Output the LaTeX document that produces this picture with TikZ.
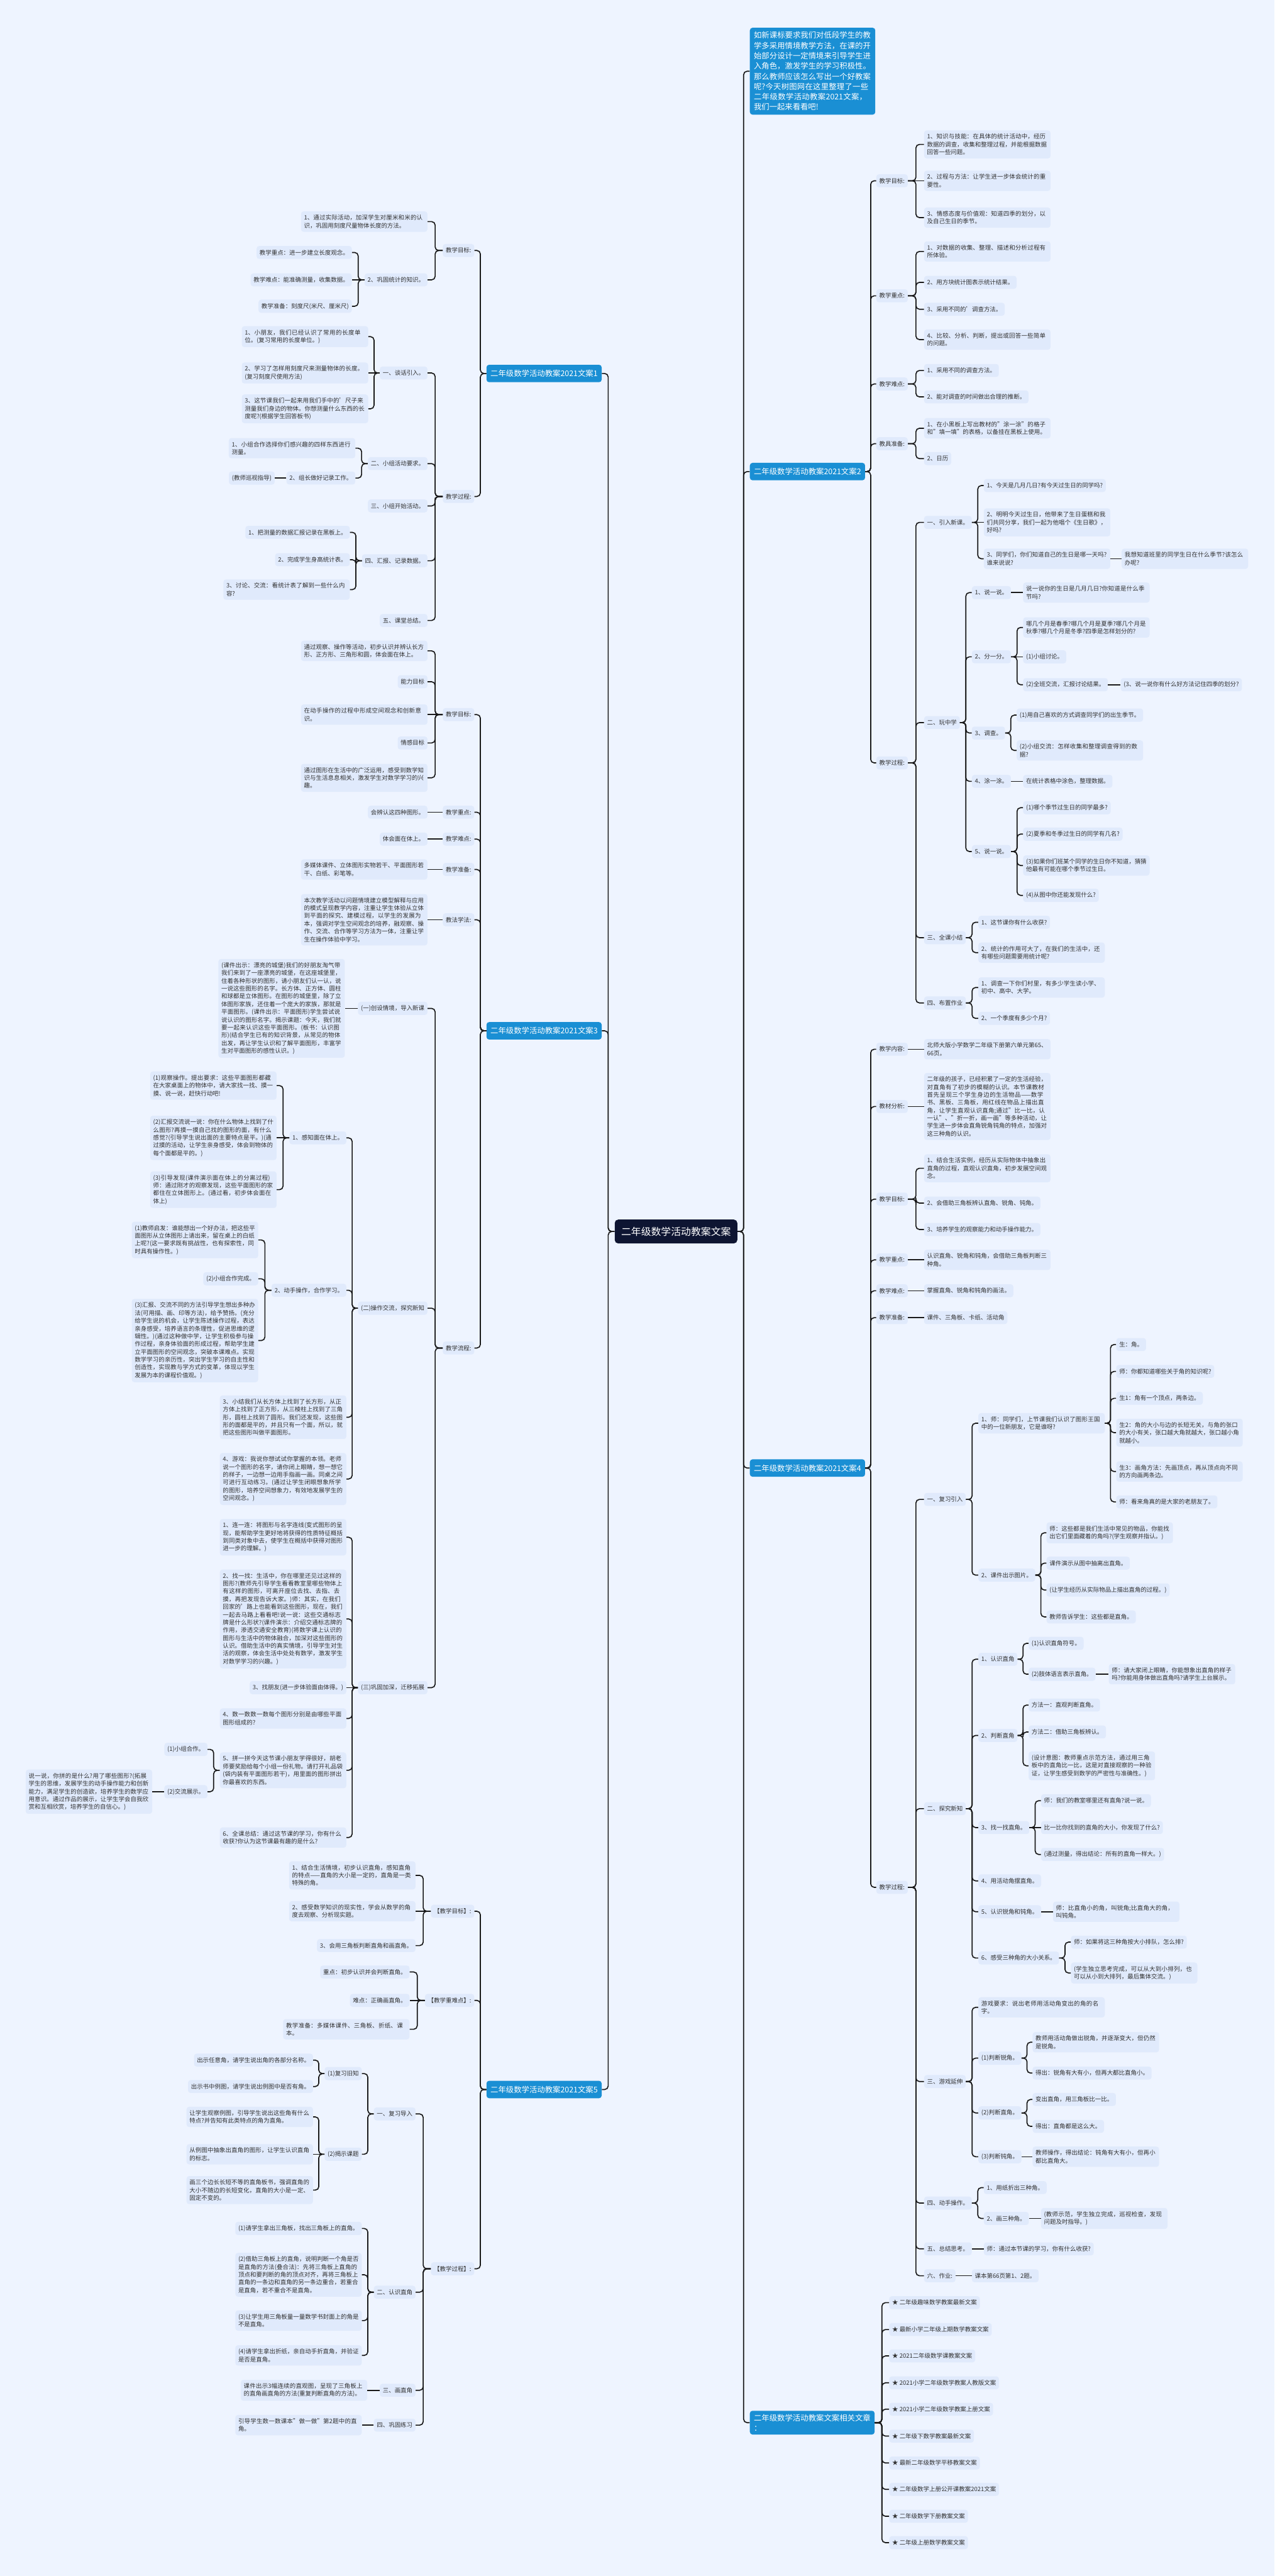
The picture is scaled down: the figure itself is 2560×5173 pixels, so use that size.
\documentclass[tikz,border=0pt]{standalone}
\usepackage{fontspec}
\setmainfont{Noto Sans CJK SC}
\XeTeXlinebreaklocale "zh"
\XeTeXlinebreakskip=0pt plus 1pt
\usetikzlibrary{calc}
\definecolor{pagebg}{RGB}{238,244,255}
\definecolor{leafbg}{RGB}{224,234,252}
\definecolor{topicbg}{RGB}{26,143,212}
\definecolor{rootbg}{RGB}{14,21,50}
\definecolor{wirecol}{RGB}{25,25,25}
\definecolor{inkcol}{RGB}{50,50,50}
\tikzset{
  leaf/.style={fill=leafbg, rounded corners=3pt, inner xsep=0.12cm, inner ysep=0.14cm,
    minimum height=0.52cm, align=left, text=inkcol, font=\fontsize{6.8pt}{8.9pt}\selectfont},
  wleaf/.style={leaf, text width=4.84cm},
  topic/.style={fill=topicbg, rounded corners=3pt, inner xsep=0.16cm, inner ysep=0.14cm,
    minimum height=0.7cm, align=left, text=white, font=\fontsize{8.9pt}{11.6pt}\selectfont},
  hub/.style={fill=rootbg, rounded corners=4pt, inner xsep=0.26cm, minimum height=0.96cm,
    text=white, font=\fontsize{11.4pt}{13pt}\selectfont},
  wire/.style={draw=wirecol, line width=1.2pt, rounded corners=4pt},
}
\newcommand{\rkids}[2]{\foreach \kid in {#2}{\draw[wire] (#1.east) -| ($(#1.east)!.5!(\kid.west)$) |- (\kid.west);}}
\newcommand{\lkids}[2]{\foreach \kid in {#2}{\draw[wire] (#1.west) -| ($(#1.west)!.5!(\kid.east)$) |- (\kid.east);}}
\newcommand{\rone}[2]{\draw[wire] (#1.east) -- (#1.east -| #2.west);}
\newcommand{\lone}[2]{\draw[wire] (#1.west) -- (#1.west -| #2.east);}

\begin{document}
\begin{tikzpicture}[x=0.02cm,y=-0.02cm]
\fill[pagebg] (0,0) rectangle (2560,5173);
\useasboundingbox (0,0) rectangle (2560,5173);

\node[hub] (root) at (1358,2473) {二年级数学活动教案文案};

% right side
\node[topic, anchor=west, text width=4.72cm, inner ysep=0.16cm, font=\fontsize{8.87pt}{11.7pt}\selectfont] (intro) at (1506,143) {如新课标要求我们对低段学生的教学多采用情境教学方法，在课的开始部分设计一定情境来引导学生进入角色，激发学生的学习积极性。那么教师应该怎么写出一个好教案呢?今天树图网在这里整理了一些二年级数学活动教案2021文案，我们一起来看看吧!};

\node[topic, anchor=west] (b2) at (1506,947) {二年级数学活动教案2021文案2};
\node[leaf, anchor=west] (b2g) at (1760,363) {教学目标:};
\node[leaf, anchor=west] (b2z) at (1760,594) {教学重点:};
\node[leaf, anchor=west] (b2n) at (1760,771) {教学难点:};
\node[leaf, anchor=west] (b2j) at (1760,891) {教具准备:};
\node[leaf, anchor=west] (b2p) at (1760,1532) {教学过程:};
\node[wleaf, anchor=west] (b2g1) at (1856,290) {1、知识与技能：在具体的统计活动中，经历数据的调查，收集和整理过程，并能根据数据回答一些问题。};
\node[wleaf, anchor=west] (b2g2) at (1856,363) {2、过程与方法：让学生进一步体会统计的重要性。};
\node[wleaf, anchor=west] (b2g3) at (1856,437) {3、情感态度与价值观：知道四季的划分，以及自己生日的季节。};
\node[wleaf, anchor=west] (b2z1) at (1856,505) {1、对数据的收集、整理、描述和分析过程有所体验。};
\node[leaf, anchor=west] (b2z2) at (1856,567) {2、用方块统计图表示统计结果。};
\node[leaf, anchor=west] (b2z3) at (1856,621) {3、采用不同的'调查方法。};
\node[wleaf, anchor=west] (b2z4) at (1856,682) {4、比较、分析、判断，提出或回答一些简单的问题。};
\node[leaf, anchor=west] (b2n1) at (1856,744) {1、采用不同的调查方法。};
\node[leaf, anchor=west] (b2n2) at (1856,797) {2、能对调查的时间做出合理的推断。};
\node[wleaf, anchor=west] (b2j1) at (1856,860) {1、在小黑板上写出教材的"涂一涂"的格子和"填一填"的表格，以备挂在黑板上使用。};
\node[leaf, anchor=west] (b2j2) at (1856,921) {2、日历};
\node[leaf, anchor=west] (b2p1) at (1856,1049) {一、引入新课。};
\node[leaf, anchor=west] (b2p2) at (1856,1451) {二、玩中学};
\node[leaf, anchor=west] (b2p3) at (1856,1883) {三、全课小结};
\node[leaf, anchor=west] (b2p4) at (1856,2014) {四、布置作业};
\node[leaf, anchor=west] (c11) at (1976,975) {1、今天是几月几日?有今天过生日的同学吗?};
\node[wleaf, anchor=west] (c12) at (1976,1049) {2、明明今天过生日，他带来了生日蛋糕和我们共同分享，我们一起为他唱个《生日歌》，好吗?};
\node[wleaf, anchor=west] (c13) at (1976,1122) {3、同学们，你们知道自己的生日是哪一天吗?谁来说说?};
\node[wleaf, anchor=west] (c131) at (2253,1122) {我想知道班里的同学生日在什么季节?该怎么办呢?};
\node[leaf, anchor=west] (c21) at (1952,1190) {1、说一说。};
\node[wleaf, anchor=west] (c211) at (2055,1190) {说一说你的生日是几月几日?你知道是什么季节吗?};
\node[leaf, anchor=west] (c22) at (1952,1319) {2、分一分。};
\node[wleaf, anchor=west] (c221) at (2055,1260) {哪几个月是春季?哪几个月是夏季?哪几个月是秋季?哪几个月是冬季?四季是怎样划分的?};
\node[leaf, anchor=west] (c222) at (2055,1319) {(1)小组讨论。};
\node[leaf, anchor=west] (c223) at (2055,1375) {(2)全班交流，汇报讨论结果。};
\node[leaf, anchor=west] (c2231) at (2251,1375) {(3、说一说你有什么好方法记住四季的划分?};
\node[leaf, anchor=west] (c23) at (1952,1472) {3、调查。};
\node[wleaf, anchor=west] (c231) at (2042,1436) {(1)用自己喜欢的方式调查同学们的出生季节。};
\node[wleaf, anchor=west] (c232) at (2042,1507) {(2)小组交流：怎样收集和整理调查得到的数据?};
\node[leaf, anchor=west] (c24) at (1952,1569) {4、涂一涂。};
\node[leaf, anchor=west] (c241) at (2055,1569) {在统计表格中涂色，整理数据。};
\node[leaf, anchor=west] (c25) at (1952,1710) {5、说一说。};
\node[leaf, anchor=west] (c251) at (2055,1622) {(1)哪个季节过生日的同学最多?};
\node[leaf, anchor=west] (c252) at (2055,1675) {(2)夏季和冬季过生日的同学有几名?};
\node[wleaf, anchor=west] (c253) at (2055,1738) {(3)如果你们班某个同学的生日你不知道，猜猜他最有可能在哪个季节过生日。};
\node[leaf, anchor=west] (c254) at (2055,1798) {(4)从图中你还能发现什么?};
\node[leaf, anchor=west] (c31) at (1965,1852) {1、这节课你有什么收获?};
\node[wleaf, anchor=west] (c32) at (1965,1913) {2、统计的作用可大了，在我们的生活中，还有哪些问题需要用统计呢?};
\node[wleaf, anchor=west] (c41) at (1965,1983) {1、调查一下你们村里，有多少学生读小学、初中、高中、大学。};
\node[leaf, anchor=west] (c42) at (1965,2045) {2、一个季度有多少个月?};

\node[topic, anchor=west] (b4) at (1506,2948) {二年级数学活动教案2021文案4};
\node[leaf, anchor=west] (d1) at (1760,2107) {教学内容:};
\node[leaf, anchor=west] (d2) at (1760,2222) {教材分析:};
\node[leaf, anchor=west] (d3) at (1760,2408) {教学目标:};
\node[leaf, anchor=west] (d4) at (1760,2530) {教学重点:};
\node[leaf, anchor=west] (d5) at (1760,2592) {教学难点:};
\node[leaf, anchor=west] (d6) at (1760,2646) {教学准备:};
\node[leaf, anchor=west] (d7) at (1760,3790) {教学过程:};
\node[wleaf, anchor=west] (d11) at (1856,2107) {北师大版小学数学二年级下册第六单元第65、66页。};
\node[wleaf, anchor=west] (d21) at (1856,2222) {二年级的孩子，已经积累了一定的生活经验，对直角有了初步的模糊的认识。本节课教材首先呈现三个学生身边的生活物品——数学书、黑板、三角板，用红线在物品上描出直角，让学生直观认识直角;通过"比一比，认一认"、"折一折，画一画"等多种活动，让学生进一步体会直角锐角钝角的特点，加强对这三种角的认识。};
\node[wleaf, anchor=west] (d31) at (1856,2346) {1、结合生活实例，经历从实际物体中抽象出直角的过程，直观认识直角，初步发展空间观念。};
\node[leaf, anchor=west] (d32) at (1856,2416) {2、会借助三角板辨认直角、锐角、钝角。};
\node[leaf, anchor=west] (d33) at (1856,2469) {3、培养学生的观察能力和动手操作能力。};
\node[wleaf, anchor=west] (d41) at (1856,2530) {认识直角、锐角和钝角，会借助三角板判断三种角。};
\node[leaf, anchor=west] (d51) at (1856,2592) {掌握直角、锐角和钝角的画法。};
\node[leaf, anchor=west] (d61) at (1856,2646) {课件、三角板、卡纸、活动角};
\node[leaf, anchor=west] (e1) at (1856,3011) {一、复习引入};
\node[leaf, anchor=west] (e2) at (1856,3632) {二、探究新知};
\node[leaf, anchor=west] (e3) at (1856,4180) {三、游戏延伸};
\node[leaf, anchor=west] (e4) at (1856,4424) {四、动手操作。};
\node[leaf, anchor=west] (e5) at (1856,4516) {五、总结思考。};
\node[leaf, anchor=west] (e6) at (1856,4570) {六、作业:};
\node[wleaf, anchor=west] (e11) at (1965,2858) {1、师：同学们，上节课我们认识了图形王国中的一位新朋友，它是谁呀?};
\node[leaf, anchor=west] (e111) at (2242,2700) {生：角。};
\node[leaf, anchor=west] (e112) at (2242,2754) {师：你都知道哪些关于角的知识呢?};
\node[leaf, anchor=west] (e113) at (2242,2808) {生1：角有一个顶点，两条边。};
\node[wleaf, anchor=west] (e114) at (2242,2877) {生2：角的大小与边的长短无关，与角的张口的大小有关，张口越大角就越大，张口越小角就越小。};
\node[wleaf, anchor=west] (e115) at (2242,2955) {生3：画角方法：先画顶点，再从顶点向不同的方向画两条边。};
\node[leaf, anchor=west] (e116) at (2242,3016) {师：看来角真的是大家的老朋友了。};
\node[leaf, anchor=west] (e12) at (1965,3163) {2、课件出示图片。};
\node[wleaf, anchor=west] (e121) at (2102,3078) {师：这些都是我们生活中常见的物品，你能找出它们里面藏着的角吗?(学生观察并指认。)};
\node[leaf, anchor=west] (e122) at (2102,3139) {课件演示从图中抽离出直角。};
\node[leaf, anchor=west] (e123) at (2102,3193) {(让学生经历从实际物品上描出直角的过程。)};
\node[leaf, anchor=west] (e124) at (2102,3247) {教师告诉学生：这些都是直角。};
\node[leaf, anchor=west] (e21) at (1965,3332) {1、认识直角};
\node[leaf, anchor=west] (e211) at (2066,3300) {(1)认识直角符号。};
\node[leaf, anchor=west] (e212) at (2066,3362) {(2)肢体语言表示直角。};
\node[wleaf, anchor=west] (e2121) at (2227,3362) {师：请大家闭上眼睛，你能想象出直角的样子吗?你能用身体做出直角吗?请学生上台展示。};
\node[leaf, anchor=west] (e22) at (1965,3485) {2、判断直角};
\node[leaf, anchor=west] (e221) at (2066,3424) {方法一：直观判断直角。};
\node[leaf, anchor=west] (e222) at (2066,3478) {方法二：借助三角板辨认。};
\node[wleaf, anchor=west] (e223) at (2066,3546) {(设计意图：教师重点示范方法，通过用三角板中的直角比一比，这是对直接观察的一种验证，让学生感受到数学的严密性与准确性。)};
\node[leaf, anchor=west] (e23) at (1965,3670) {3、找一找直角。};
\node[leaf, anchor=west] (e231) at (2091,3616) {师：我们的教室哪里还有直角?说一说。};
\node[leaf, anchor=west] (e232) at (2091,3670) {比一比你找到的直角的大小，你发现了什么?};
\node[leaf, anchor=west] (e233) at (2091,3724) {(通过测量，得出结论：所有的直角一样大。)};
\node[leaf, anchor=west] (e24) at (1965,3777) {4、用活动角摆直角。};
\node[leaf, anchor=west] (e25) at (1965,3839) {5、认识锐角和钝角。};
\node[wleaf, anchor=west] (e251) at (2115,3839) {师：比直角小的角，叫锐角;比直角大的角，叫钝角。};
\node[leaf, anchor=west] (e26) at (1965,3932) {6、感受三种角的大小关系。};
\node[leaf, anchor=west] (e261) at (2151,3900) {师：如果将这三种角按大小排队，怎么排?};
\node[wleaf, anchor=west] (e262) at (2151,3962) {(学生独立思考完成，可以从大到小排列，也可以从小到大排列，最后集体交流。)};
\node[wleaf, anchor=west] (e31) at (1965,4031) {游戏要求：说出老师用活动角变出的角的名字。};
\node[leaf, anchor=west] (e32) at (1965,4133) {(1)判断锐角。};
\node[wleaf, anchor=west] (e321) at (2074,4101) {教师用活动角做出锐角，并逐渐变大，但仍然是锐角。};
\node[leaf, anchor=west] (e322) at (2074,4163) {得出：锐角有大有小，但再大都比直角小。};
\node[leaf, anchor=west] (e33) at (1965,4243) {(2)判断直角。};
\node[leaf, anchor=west] (e331) at (2074,4216) {变出直角，用三角板比一比。};
\node[leaf, anchor=west] (e332) at (2074,4270) {得出：直角都是这么大。};
\node[leaf, anchor=west] (e34) at (1965,4331) {(3)判断钝角。};
\node[wleaf, anchor=west] (e341) at (2074,4331) {教师操作，得出结论：钝角有大有小，但再小都比直角大。};
\node[leaf, anchor=west] (e41) at (1976,4393) {1、用纸折出三种角。};
\node[leaf, anchor=west] (e42) at (1976,4455) {2、画三种角。};
\node[wleaf, anchor=west] (e421) at (2091,4455) {(教师示范，学生独立完成，巡视检查，发现问题及时指导。)};
\node[leaf, anchor=west] (e51) at (1976,4516) {师：通过本节课的学习，你有什么收获?};
\node[leaf, anchor=west] (e61) at (1952,4570) {课本第66页第1、2题。};

\node[topic, anchor=west] (rel) at (1506,4865) {二年级数学活动教案文案相关文章\\：};
\node[leaf, anchor=west] (r1) at (1786,4624) {★ 二年级趣味数学教案最新文案};
\node[leaf, anchor=west] (r2) at (1786,4678) {★ 最新小学二年级上期数学教案文案};
\node[leaf, anchor=west] (r3) at (1786,4731) {★ 2021二年级数学课教案文案};
\node[leaf, anchor=west] (r4) at (1786,4785) {★ 2021小学二年级数学教案人教版文案};
\node[leaf, anchor=west] (r5) at (1786,4838) {★ 2021小学二年级数学教案上册文案};
\node[leaf, anchor=west] (r6) at (1786,4892) {★ 二年级下数学教案最新文案};
\node[leaf, anchor=west] (r7) at (1786,4946) {★ 最新二年级数学平移教案文案};
\node[leaf, anchor=west] (r8) at (1786,4999) {★ 二年级数学上册公开课教案2021文案};
\node[leaf, anchor=west] (r9) at (1786,5053) {★ 二年级数学下册教案文案};
\node[leaf, anchor=west] (r10) at (1786,5106) {★ 二年级上册数学教案文案};

% left side
\node[topic, anchor=east] (b1) at (1209,750) {二年级数学活动教案2021文案1};
\node[leaf, anchor=east] (b1g) at (953,503) {教学目标:};
\node[leaf, anchor=east] (b1p) at (953,997) {教学过程:};
\node[wleaf, anchor=east] (b1g1) at (859,445) {1、通过实际活动，加深学生对厘米和米的认识，巩固用刻度尺量物体长度的方法。};
\node[leaf, anchor=east] (b1g2) at (859,562) {2、巩固统计的知识。};
\node[leaf, anchor=east] (b1g21) at (707,507) {教学重点：进一步建立长度观念。};
\node[leaf, anchor=east] (b1g22) at (707,562) {教学难点：能准确测量，收集数据。};
\node[leaf, anchor=east] (b1g23) at (707,615) {教学准备：刻度尺(米尺、厘米尺)};
\node[leaf, anchor=east] (b1p1) at (859,749) {一、谈话引入。};
\node[wleaf, anchor=east] (b1p11) at (740,676) {1、小朋友，我们已经认识了常用的长度单位。(复习常用的长度单位。)};
\node[wleaf, anchor=east] (b1p12) at (740,749) {2、学习了怎样用刻度尺来测量物体的长度。(复习刻度尺使用方法)};
\node[wleaf, anchor=east] (b1p13) at (740,821) {3、这节课我们一起来用我们手中的'尺子来测量我们身边的物体。你想测量什么东西的长度呢?(根据学生回答板书)};
\node[leaf, anchor=east] (b1p2) at (859,931) {二、小组活动要求。};
\node[wleaf, anchor=east] (b1p21) at (714,900) {1、小组合作选择你们感兴趣的四样东西进行测量。};
\node[leaf, anchor=east] (b1p22) at (714,960) {2、组长做好记录工作。};
\node[leaf, anchor=east] (b1p221) at (552,960) {(教师巡视指导)};
\node[leaf, anchor=east] (b1p3) at (859,1016) {三、小组开始活动。};
\node[leaf, anchor=east] (b1p4) at (859,1126) {四、汇报、记录数据。};
\node[leaf, anchor=east] (b1p41) at (703,1069) {1、把测量的数据汇报记录在黑板上。};
\node[leaf, anchor=east] (b1p42) at (703,1124) {2、完成学生身高统计表。};
\node[wleaf, anchor=east] (b1p43) at (703,1184) {3、讨论、交流：看统计表了解到一些什么内容?};
\node[leaf, anchor=east] (b1p5) at (859,1246) {五、课堂总结。};

\node[topic, anchor=east] (b3) at (1209,2070) {二年级数学活动教案2021文案3};
\node[leaf, anchor=east] (f1) at (953,1435) {教学目标:};
\node[leaf, anchor=east] (f2) at (953,1631) {教学重点:};
\node[leaf, anchor=east] (f3) at (953,1685) {教学难点:};
\node[leaf, anchor=east] (f4) at (953,1746) {教学准备:};
\node[leaf, anchor=east] (f5) at (953,1847) {教法学法:};
\node[leaf, anchor=east] (f6) at (953,2707) {教学流程:};
\node[wleaf, anchor=east] (f11) at (859,1307) {通过观察、操作等活动，初步认识并辨认长方形、正方形、三角形和圆，体会面在体上。};
\node[leaf, anchor=east] (f12) at (859,1369) {能力目标};
\node[wleaf, anchor=east] (f13) at (859,1435) {在动手操作的过程中形成空间观念和创新意识。};
\node[leaf, anchor=east] (f14) at (859,1492) {情感目标};
\node[wleaf, anchor=east] (f15) at (859,1562) {通过图形在生活中的广泛运用，感受到数学知识与生活息息相关，激发学生对数学学习的兴趣。};
\node[leaf, anchor=east] (f21) at (859,1631) {会辨认这四种图形。};
\node[leaf, anchor=east] (f31) at (859,1685) {体会面在体上。};
\node[wleaf, anchor=east] (f41) at (859,1746) {多媒体课件、立体图形实物若干、平面图形若干、白纸、彩笔等。};
\node[wleaf, anchor=east] (f51) at (859,1847) {本次教学活动以问题情境建立模型解释与应用的模式呈现教学内容，注重让学生体验从立体到平面的探究、建模过程，以学生的发展为本，强调对学生空间观念的培养，融观察、操作、交流、合作等学习方法为一体，注重让学生在操作体验中学习。};
\node[leaf, anchor=east] (g1) at (859,2025) {(一)创设情境，导入新课};
\node[leaf, anchor=east] (g2) at (859,2627) {(二)操作交流，探究新知};
\node[leaf, anchor=east] (g3) at (859,3389) {(三)巩固加深，迁移拓展};
\node[wleaf, anchor=east] (g11) at (693,2025) {(课件出示：漂亮的城堡)我们的好朋友淘气带我们来到了一座漂亮的城堡，在这座城堡里，住着各种形状的图形，请小朋友们认一认，说一说这些图形的名字。长方体、正方体、圆柱和球都是立体图形。在图形的城堡里，除了立体图形家族，还住着一个庞大的家族，那就是平面图形。(课件出示：平面图形)学生尝试说说认识的图形名字。揭示课题：今天，我们就要一起来认识这些平面图形。(板书：认识图形)(结合学生已有的知识背景，从常见的物体出发，再让学生认识和了解平面图形，丰富学生对平面图形的感性认识。)};
\node[leaf, anchor=east] (g21) at (696,2285) {1、感知面在体上。};
\node[wleaf, anchor=east] (g211) at (556,2180) {(1)观察操作。提出要求：这些平面图形都藏在大家桌面上的物体中，请大家找一找、摸一摸、说一说，赶快行动吧!};
\node[wleaf, anchor=east] (g212) at (556,2285) {(2)汇报交流说一说：你在什么物体上找到了什么图形?再摸一摸自己找的图形的面，有什么感觉?(引导学生说出面的主要特点是平。)(通过摸的活动，让学生亲身感受，体会到物体的每个面都是平的。)};
\node[wleaf, anchor=east] (g213) at (556,2389) {(3)引导发现(课件演示面在体上的分离过程)师：通过刚才的观察发现，这些平面图形的家都住在立体图形上。(通过看，初步体会面在体上)};
\node[leaf, anchor=east] (g22) at (696,2591) {2、动手操作，合作学习。};
\node[wleaf, anchor=east] (g221) at (519,2490) {(1)教师启发：谁能想出一个好办法，把这些平面图形从立体图形上请出来，留在桌上的白纸上呢?(这一要求既有挑战性，也有探索性，同时具有操作性。)};
\node[leaf, anchor=east] (g222) at (519,2568) {(2)小组合作完成。};
\node[wleaf, anchor=east] (g223) at (519,2692) {(3)汇报、交流不同的方法引导学生想出多种办法(可用描、画、印等方法)，给予赞扬。(充分给学生说的机会，让学生陈述操作过程，表达亲身感受，培养语言的条理性，促进思维的逻辑性。)(通过这种做中学，让学生积极参与操作过程，亲身体验面的形成过程，帮助学生建立平面图形的空间观念，突破本课难点。实现数学学习的亲历性，突出学生学习的自主性和创造性，实现教与学方式的变革，体现以学生发展为本的课程价值观。)};
\node[wleaf, anchor=east] (g23) at (696,2846) {3、小结我们从长方体上找到了长方形，从正方体上找到了正方形，从三棱柱上找到了三角形，圆柱上找到了圆形。我们还发现，这些图形的面都是平的，并且只有一个面，所以，就把这些图形叫做平面图形。};
\node[wleaf, anchor=east] (g24) at (696,2970) {4、游戏：我说你想试试你掌握的本领。老师说一个图形的名字，请你闭上眼睛，想一想它的样子，一边想一边用手指画一画。同桌之间可进行互动练习。(通过让学生闭眼想象所学的图形，培养空间想象力，有效地发展学生的空间观念。)};
\node[wleaf, anchor=east] (g31) at (696,3087) {1、连一连：将图形与名字连线(变式图形的呈现，能帮助学生更好地将获得的性质特征概括到同类对象中去，使学生在概括中获得对图形进一步的理解。)};
\node[wleaf, anchor=east] (g32) at (696,3251) {2、找一找：生活中，你在哪里还见过这样的图形?(教师先引导学生看看教室里哪些物体上有这样的图形，可离开座位去找、去指、去摸，再把发现告诉大家。)师：其实，在我们回家的'路上也能看到这些图形，现在，我们一起去马路上看看吧!说一说：这些交通标志牌是什么形状?(课件演示：介绍交通标志牌的作用，渗透交通安全教育)(将数学课上认识的图形与生活中的物体融合，加深对这些图形的认识。借助生活中的真实情境，引导学生对生活的观察，体会生活中处处有数学，激发学生对数学学习的兴趣。)};
\node[leaf, anchor=east] (g33) at (696,3389) {3、找朋友(进一步体验面由体得。)};
\node[wleaf, anchor=east] (g34) at (696,3451) {4、数一数数一数每个图形分别是由哪些平面图形组成的?};
\node[wleaf, anchor=east] (g35) at (696,3555) {5、拼一拼今天这节课小朋友学得很好，胡老师要奖励给每个小组一份礼物。请打开礼品袋(袋内装有平面图形若干)，用里面的图形拼出你最喜欢的东西。};
\node[leaf, anchor=east] (g351) at (417,3513) {(1)小组合作。};
\node[leaf, anchor=east] (g352) at (417,3598) {(2)交流展示。};
\node[wleaf, anchor=east] (g3521) at (306,3598) {说一说，你拼的是什么?用了哪些图形?(拓展学生的思维，发展学生的动手操作能力和创新能力，满足学生的创造欲，培养学生的数学应用意识。通过作品的展示，让学生学会自我欣赏和互相欣赏，培养学生的自信心。)};
\node[wleaf, anchor=east] (g36) at (696,3690) {6、全课总结：通过这节课的学习，你有什么收获?你认为这节课最有趣的是什么?};

\node[topic, anchor=east] (b5) at (1209,4196) {二年级数学活动教案2021文案5};
\node[leaf, anchor=east] (h1) at (953,3838) {【教学目标】:};
\node[leaf, anchor=east] (h2) at (953,4017) {【教学重难点】:};
\node[leaf, anchor=east] (h3) at (953,4556) {【教学过程】:};
\node[wleaf, anchor=east] (h11) at (835,3766) {1、结合生活情境，初步认识直角，感知直角的特点——直角的大小是一定的，直角是一类特殊的角。};
\node[wleaf, anchor=east] (h12) at (835,3838) {2、感受数学知识的现实性，学会从数学的角度去观察、分析现实题。};
\node[leaf, anchor=east] (h13) at (835,3907) {3、会用三角板判断直角和画直角。};
\node[leaf, anchor=east] (h21) at (823,3960) {重点：初步认识并会判断直角。};
\node[leaf, anchor=east] (h22) at (823,4017) {难点：正确画直角。};
\node[wleaf, anchor=east] (h23) at (823,4075) {教学准备：多媒体课件、三角板、折纸、课本。};
\node[leaf, anchor=east] (h31) at (835,4245) {一、复习导入};
\node[leaf, anchor=east] (h311) at (727,4164) {(1)复习旧知};
\node[leaf, anchor=east] (h3111) at (629,4137) {出示任意角，请学生说出角的各部分名称。};
\node[leaf, anchor=east] (h3112) at (629,4190) {出示书中例图，请学生说出例图中是否有角。};
\node[leaf, anchor=east] (h312) at (727,4326) {(2)揭示课题};
\node[wleaf, anchor=east] (h3121) at (629,4251) {让学生观察例图，引导学生说出这些角有什么特点?并告知有此类特点的角为直角。};
\node[wleaf, anchor=east] (h3122) at (629,4326) {从例图中抽象出直角的图形，让学生认识直角的标志。};
\node[wleaf, anchor=east] (h3123) at (629,4398) {画三个边长长短不等的直角板书，强调直角的大小不随边的长短变化，直角的大小是一定、固定不变的。};
\node[leaf, anchor=east] (h32) at (835,4603) {二、认识直角};
\node[wleaf, anchor=east] (h321) at (727,4475) {(1)请学生拿出三角板，找出三角板上的直角。};
\node[wleaf, anchor=east] (h322) at (727,4568) {(2)借助三角板上的直角，说明判断一个角是否是直角的方法(叠合法)：先将三角板上直角的顶点和要判断的角的顶点对齐，再将三角板上直角的一条边和直角的另一条边重合，若重合是直角，若不重合不是直角。};
\node[wleaf, anchor=east] (h323) at (727,4660) {(3)让学生用三角板量一量数学书封面上的角是不是直角。};
\node[wleaf, anchor=east] (h324) at (727,4730) {(4)请学生拿出折纸，亲自动手折直角，并验证是否是直角。};
\node[leaf, anchor=east] (h33) at (835,4800) {三、画直角};
\node[wleaf, anchor=east] (h331) at (738,4800) {课件出示3幅连续的直观图，呈现了三角板上的直角画直角的方法(重复判断直角的方法)。};
\node[leaf, anchor=east] (h34) at (835,4870) {四、巩固练习};
\node[wleaf, anchor=east] (h341) at (727,4870) {引导学生数一数课本"做一做"第2题中的直角。};

% connectors
\rkids{root}{intro,b2,b4,rel}
\lkids{root}{b1,b3,b5}
\rkids{b2}{b2g,b2z,b2n,b2j,b2p}
\rkids{b2g}{b2g1,b2g3}
\rone{b2g}{b2g2}
\rkids{b2z}{b2z1,b2z2,b2z3,b2z4}
\rkids{b2n}{b2n1,b2n2}
\rkids{b2j}{b2j1,b2j2}
\rkids{b2p}{b2p1,b2p2,b2p3,b2p4}
\rkids{b2p1}{c11,c13}
\rone{b2p1}{c12}
\rone{c13}{c131}
\rkids{b2p2}{c21,c22,c23,c24,c25}
\rone{c21}{c211}
\rkids{c22}{c221,c223}
\rone{c22}{c222}
\rone{c223}{c2231}
\rkids{c23}{c231,c232}
\rone{c24}{c241}
\rkids{c25}{c251,c252,c253,c254}
\rkids{b2p3}{c31,c32}
\rkids{b2p4}{c41,c42}
\rkids{b4}{d1,d2,d3,d4,d5,d6,d7}
\rone{d1}{d11}
\rone{d2}{d21}
\rkids{d3}{d31,d32,d33}
\rone{d4}{d41}
\rone{d5}{d51}
\rone{d6}{d61}
\rkids{d7}{e1,e2,e3,e4,e5,e6}
\rkids{e1}{e11,e12}
\rkids{e11}{e111,e112,e113,e114,e115,e116}
\rkids{e12}{e121,e122,e123,e124}
\rkids{e2}{e21,e22,e23,e24,e25,e26}
\rkids{e21}{e211,e212}
\rone{e212}{e2121}
\rkids{e22}{e221,e222,e223}
\rkids{e23}{e231,e233}
\rone{e23}{e232}
\rone{e25}{e251}
\rkids{e26}{e261,e262}
\rkids{e3}{e31,e32,e33,e34}
\rkids{e32}{e321,e322}
\rkids{e33}{e331,e332}
\rone{e34}{e341}
\rkids{e4}{e41,e42}
\rone{e42}{e421}
\rone{e5}{e51}
\rone{e6}{e61}
\rkids{rel}{r1,r2,r3,r4,r5,r6,r7,r8,r9,r10}
\lkids{b1}{b1g,b1p}
\lkids{b1g}{b1g1,b1g2}
\lkids{b1g2}{b1g21,b1g23}
\lone{b1g2}{b1g22}
\lkids{b1p}{b1p1,b1p2,b1p3,b1p4,b1p5}
\lkids{b1p1}{b1p11,b1p13}
\lone{b1p1}{b1p12}
\lkids{b1p2}{b1p21,b1p22}
\lone{b1p22}{b1p221}
\lkids{b1p4}{b1p41,b1p42,b1p43}
\lkids{b3}{f1,f2,f3,f4,f5,f6}
\lkids{f1}{f11,f12,f14,f15}
\lone{f1}{f13}
\lone{f2}{f21}
\lone{f3}{f31}
\lone{f4}{f41}
\lone{f5}{f51}
\lkids{f6}{g1,g2,g3}
\lone{g1}{g11}
\lkids{g2}{g21,g22,g23,g24}
\lkids{g21}{g211,g213}
\lone{g21}{g212}
\lkids{g22}{g221,g222,g223}
\lkids{g3}{g31,g32,g34,g35,g36}
\lone{g3}{g33}
\lkids{g35}{g351,g352}
\lone{g352}{g3521}
\lkids{b5}{h1,h2,h3}
\lkids{h1}{h11,h13}
\lone{h1}{h12}
\lkids{h2}{h21,h23}
\lone{h2}{h22}
\lkids{h3}{h31,h32,h33,h34}
\lkids{h31}{h311,h312}
\lkids{h311}{h3111,h3112}
\lkids{h312}{h3121,h3123}
\lone{h312}{h3122}
\lkids{h32}{h321,h322,h323,h324}
\lone{h33}{h331}
\lone{h34}{h341}
\end{tikzpicture}
\end{document}
